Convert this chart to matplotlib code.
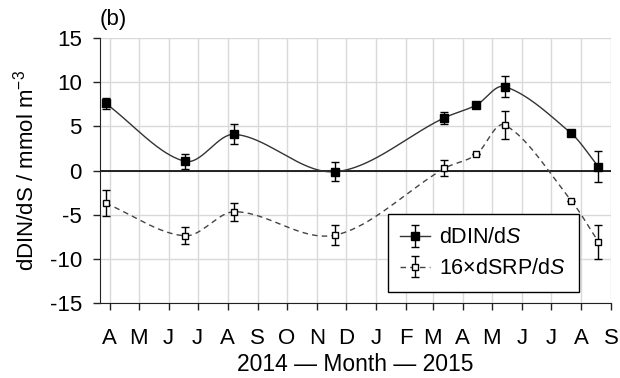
import datetime as dt
import numpy as np
import matplotlib
matplotlib.use("Agg")
import matplotlib.pyplot as plt
import matplotlib.dates as mdates
from matplotlib.legend_handler import HandlerTuple

plt.rcParams['font.family'] = ['Liberation Sans', 'DejaVu Sans']
plt.rcParams['mathtext.fontset'] = 'custom'
plt.rcParams['mathtext.rm'] = 'Liberation Sans'
plt.rcParams['mathtext.it'] = 'Liberation Sans:italic'
plt.rcParams['axes.unicode_minus'] = False

# sampling dates
dates = [dt.date(2014, 3, 28), dt.date(2014, 6, 18), dt.date(2014, 8, 8),
         dt.date(2014, 11, 20), dt.date(2015, 3, 13), dt.date(2015, 4, 15),
         dt.date(2015, 5, 14), dt.date(2015, 7, 22), dt.date(2015, 8, 19)]

din = [7.6, 1.05, 4.1, -0.13, 5.98, 7.42, 9.5, 4.2, 0.43]
din_err = [0.65, 0.85, 1.15, 1.1, 0.7, 0.0, 1.2, 0.0, 1.75]

srp = [-3.7, -7.38, -4.66, -7.3, 0.25, 1.83, 5.15, -3.42, -8.06]
srp_err = [1.45, 0.95, 1.0, 1.1, 0.9, 0.0, 1.6, 0.0, 1.9]

month_letters = ['J', 'F', 'M', 'A', 'M', 'J', 'J', 'A', 'S', 'O', 'N', 'D']


def smooth(x, y, n=60):
    # cubic hermite through the points, slopes from neighbouring points
    x = np.asarray(x, float)
    y = np.asarray(y, float)
    m = np.zeros_like(y)
    m[1:-1] = (y[2:] - y[:-2]) / (x[2:] - x[:-2])
    m[0] = (y[1] - y[0]) / (x[1] - x[0])
    m[-1] = (y[-1] - y[-2]) / (x[-1] - x[-2])
    xs, ys = [], []
    for i in range(len(x) - 1):
        h = x[i + 1] - x[i]
        t = np.linspace(0, 1, n)
        h00 = 2 * t ** 3 - 3 * t ** 2 + 1
        h10 = t ** 3 - 2 * t ** 2 + t
        h01 = -2 * t ** 3 + 3 * t ** 2
        h11 = t ** 3 - t ** 2
        xs.append(x[i] + t * h)
        ys.append(h00 * y[i] + h10 * h * m[i] + h01 * y[i + 1] + h11 * h * m[i + 1])
    return np.concatenate(xs), np.concatenate(ys)


x = mdates.date2num(dates)

fig = plt.figure(figsize=(6.2, 3.78), dpi=100)
ax = fig.add_axes([0.161, 0.198, 0.8245, 0.7015])

ax.axhline(0, color='black', lw=1.2, zorder=1.5)

sx, sy = smooth(x, din)
l1, = ax.plot(sx, sy, color='#333333', lw=1.0, zorder=2)
e1 = ax.errorbar(x, din, yerr=din_err, fmt='none', ecolor='black', elinewidth=1.0,
                 capsize=3.2, capthick=1.0, zorder=2.5)
m1, = ax.plot(x, din, ls='none', marker='s', ms=5.8, mfc='black', mec='black', zorder=3)

sx, sy = smooth(x, srp)
l2, = ax.plot(sx, sy, color='#444444', lw=1.0, ls=(0, (4, 3)), zorder=2)
e2 = ax.errorbar(x, srp, yerr=srp_err, fmt='none', ecolor='black', elinewidth=1.0,
                 capsize=3.2, capthick=1.0, zorder=2.5)
m2, = ax.plot(x, srp, ls='none', marker='s', ms=5.0, mfc='white', mec='black', mew=1.0, zorder=3)

ax.set_xlim(mdates.date2num(dt.date(2014, 3, 22)), mdates.date2num(dt.date(2015, 9, 1)))
ax.set_ylim(-15, 15)
ax.set_yticks([-15, -10, -5, 0, 5, 10, 15])

ax.xaxis.set_major_locator(mdates.MonthLocator())
ax.xaxis.set_major_formatter(plt.FuncFormatter(
    lambda v, pos: month_letters[mdates.num2date(v).month - 1]))

ax.grid(True, color='#d9d9d9', lw=1.0)
ax.set_axisbelow(True)
for s in ['top', 'right']:
    ax.spines[s].set_visible(False)
ax.spines['left'].set_color('#222222')
ax.spines['bottom'].set_color('#222222')
ax.tick_params(axis='both', labelsize=16, direction='out', length=5, width=1.0,
               color='#222222')
ax.tick_params(axis='x', pad=13)
ax.tick_params(axis='y', pad=8)

ax.set_xlabel('2014 — Month — 2015', fontsize=16.5, labelpad=3)
ax.set_ylabel('dDIN/dS / mmol m$^{-3}$', fontsize=16, labelpad=8)
ax.text(0.0, 1.068, '(b)', transform=ax.transAxes, fontsize=16, ha='left', va='center')

leg = ax.legend([(l1, e1, m1), (l2, e2, m2)],
                ['dDIN/d$\\it{S}$', '16×dSRP/d$\\it{S}$'],
                handler_map={tuple: HandlerTuple(ndivide=1)},
                loc='lower right', bbox_to_anchor=(0.937, 0.042), borderaxespad=0,
                fontsize=15.5, handlelength=1.35, handletextpad=0.45, labelspacing=0.45,
                borderpad=0.6, fancybox=False, edgecolor='black', framealpha=1)
leg.get_frame().set_linewidth(1.0)

fig.savefig('out.png', dpi=100)
